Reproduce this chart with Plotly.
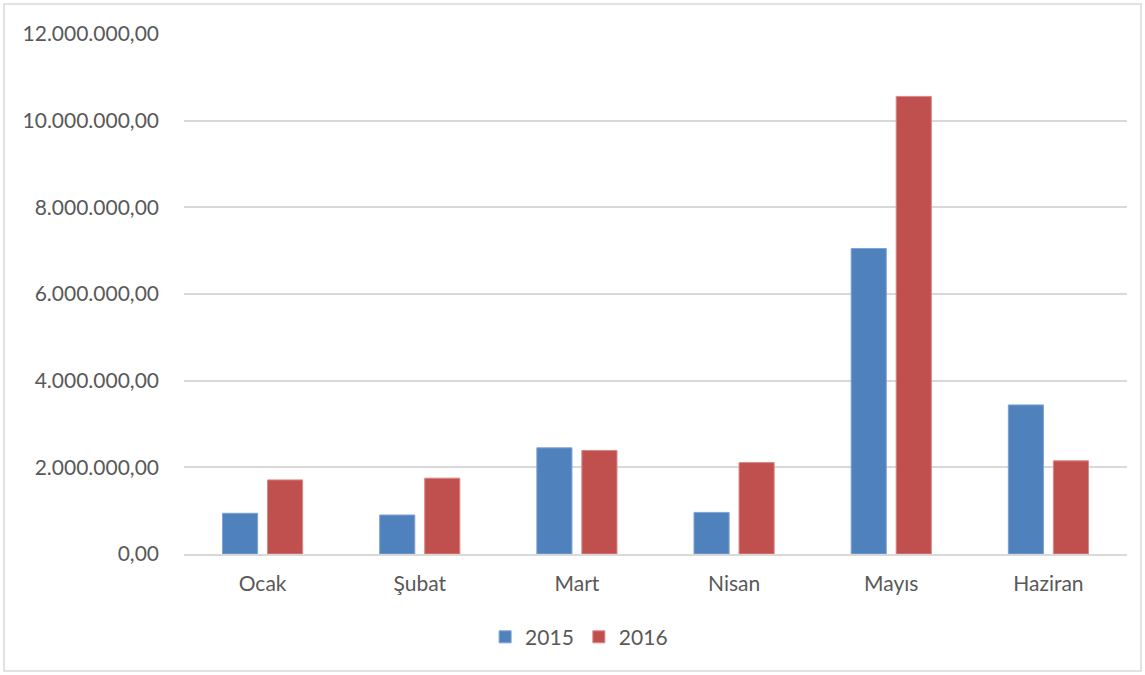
import plotly.graph_objects as go

months = ["Ocak", "Şubat", "Mart", "Nisan", "Mayıs", "Haziran"]
values_2015 = [940000, 900000, 2450000, 960000, 7050000, 3440000]
values_2016 = [1710000, 1750000, 2390000, 2110000, 10560000, 2150000]
y_ticks = [0, 2000000, 4000000, 6000000, 8000000, 10000000, 12000000]

fig = go.Figure()
fig.add_trace(go.Bar(name="2015", x=months, y=values_2015,
                     marker=dict(color="#4f81bd", line=dict(color="#7fa3d3", width=1))))
fig.add_trace(go.Bar(name="2016", x=months, y=values_2016,
                     marker=dict(color="#c0504d", line=dict(color="#d98784", width=1))))

font_family = "Lato, Open Sans, sans-serif"
fig.update_layout(
    width=1145, height=675,
    margin=dict(l=184, r=18, t=34, b=121),
    paper_bgcolor="white", plot_bgcolor="white",
    separators=",.",
    barmode="group", bargap=0.427, bargroupgap=0.22,
    font=dict(family=font_family, size=21, color="#595959"),
    showlegend=True,
    legend=dict(orientation="h", x=0.419, xanchor="center", y=-0.16, yanchor="middle",
                font=dict(size=21, color="#595959"), itemwidth=30, traceorder="normal"),
    xaxis=dict(showgrid=False, showline=True, linecolor="#d9d9d9", linewidth=1.5,
               ticks="", tickfont=dict(size=21, color="#595959"), ticklabelstandoff=10),
    yaxis=dict(range=[0, 12000000], tickvals=y_ticks, tickformat=",.2f",
               showgrid=True, gridcolor="#d9d9d9", gridwidth=1.5, zeroline=False,
               showline=False, ticks="", tickfont=dict(size=21, color="#595959"),
               ticklabelstandoff=24),
    shapes=[dict(type="rect", xref="paper", yref="paper",
                 x0=(4 - 184) / 943, x1=(1141 - 184) / 943,
                 y0=-(671 - 554) / 520, y1=(554 - 4) / 520,
                 line=dict(color="#d9d9d9", width=1.5), fillcolor="rgba(0,0,0,0)", layer="below")],
)

fig.write_html("out.html", config={"displayModeBar": False},
               post_script="document.body.style.margin='0';document.body.style.padding='0';")
